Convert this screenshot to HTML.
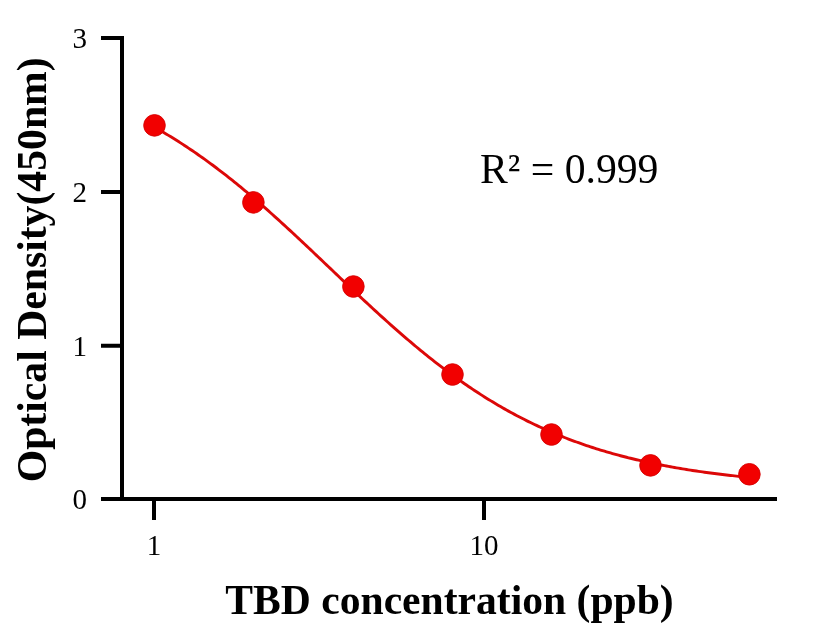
<!DOCTYPE html>
<html><head><meta charset="utf-8"><style>
html,body{margin:0;padding:0;background:#fff;}
svg{display:block;will-change:transform;}
text{font-family:"Liberation Serif",serif;fill:#000;}
</style></head><body>
<svg width="816" height="640" viewBox="0 0 816 640">
<rect width="816" height="640" fill="#fff"/>
<g stroke="#000" stroke-width="4" fill="none" stroke-linecap="butt">
<path d="M122,36 V499"/>
<path d="M101,38 H122 M101,192 H122 M101,345.8 H122"/>
<path d="M101,499 H777"/>
<path d="M154,499 V520 M484,499 V520"/>
</g>
<g font-size="29" text-anchor="end">
<text x="87" y="47.7">3</text>
<text x="87" y="201.7">2</text>
<text x="87" y="355.5">1</text>
<text x="87" y="508.7">0</text>
</g>
<g font-size="29" text-anchor="middle">
<text x="154" y="555.2">1</text>
<text x="484" y="555.2">10</text>
</g>
<text x="449.5" y="614" font-size="41.6" font-weight="bold" text-anchor="middle">TBD concentration (ppb)</text>
<text transform="translate(46,269.8) rotate(-90)" x="0" y="0" font-size="41.7" font-weight="bold" text-anchor="middle">Optical Density(450nm)</text>
<text x="480" y="182.7" font-size="41.7" >R² = 0.999</text>
<path d="M154.5,127.21 L156.5,128.34 L158.5,129.48 L160.5,130.64 L162.5,131.80 L164.5,132.98 L166.5,134.17 L168.5,135.37 L170.5,136.59 L172.5,137.82 L174.5,139.06 L176.5,140.31 L178.5,141.58 L180.5,142.86 L182.5,144.15 L184.5,145.46 L186.5,146.77 L188.5,148.10 L190.5,149.45 L192.5,150.80 L194.5,152.17 L196.5,153.55 L198.5,154.94 L200.5,156.35 L202.5,157.76 L204.5,159.19 L206.5,160.64 L208.5,162.09 L210.5,163.56 L212.5,165.04 L214.5,166.53 L216.5,168.03 L218.5,169.55 L220.5,171.07 L222.5,172.61 L224.5,174.16 L226.5,175.73 L228.5,177.30 L230.5,178.88 L232.5,180.48 L234.5,182.09 L236.5,183.70 L238.5,185.33 L240.5,186.97 L242.5,188.62 L244.5,190.28 L246.5,191.95 L248.5,193.63 L250.5,195.32 L252.5,197.02 L254.5,198.73 L256.5,200.45 L258.5,202.18 L260.5,203.92 L262.5,205.66 L264.5,207.42 L266.5,209.18 L268.5,210.95 L270.5,212.73 L272.5,214.52 L274.5,216.31 L276.5,218.11 L278.5,219.92 L280.5,221.74 L282.5,223.56 L284.5,225.39 L286.5,227.23 L288.5,229.07 L290.5,230.92 L292.5,232.77 L294.5,234.63 L296.5,236.49 L298.5,238.36 L300.5,240.23 L302.5,242.11 L304.5,243.99 L306.5,245.87 L308.5,247.76 L310.5,249.65 L312.5,251.54 L314.5,253.43 L316.5,255.33 L318.5,257.23 L320.5,259.13 L322.5,261.04 L324.5,262.94 L326.5,264.84 L328.5,266.75 L330.5,268.66 L332.5,270.56 L334.5,272.47 L336.5,274.37 L338.5,276.27 L340.5,278.18 L342.5,280.08 L344.5,281.98 L346.5,283.87 L348.5,285.77 L350.5,287.66 L352.5,289.55 L354.5,291.44 L356.5,293.32 L358.5,295.20 L360.5,297.08 L362.5,298.95 L364.5,300.82 L366.5,302.68 L368.5,304.53 L370.5,306.39 L372.5,308.23 L374.5,310.07 L376.5,311.91 L378.5,313.74 L380.5,315.56 L382.5,317.38 L384.5,319.18 L386.5,320.98 L388.5,322.78 L390.5,324.56 L392.5,326.34 L394.5,328.11 L396.5,329.88 L398.5,331.63 L400.5,333.37 L402.5,335.11 L404.5,336.84 L406.5,338.55 L408.5,340.26 L410.5,341.96 L412.5,343.65 L414.5,345.33 L416.5,347.00 L418.5,348.66 L420.5,350.31 L422.5,351.94 L424.5,353.57 L426.5,355.19 L428.5,356.79 L430.5,358.39 L432.5,359.97 L434.5,361.54 L436.5,363.10 L438.5,364.65 L440.5,366.19 L442.5,367.71 L444.5,369.23 L446.5,370.73 L448.5,372.22 L450.5,373.70 L452.5,375.16 L454.5,376.61 L456.5,378.06 L458.5,379.48 L460.5,380.90 L462.5,382.30 L464.5,383.70 L466.5,385.07 L468.5,386.44 L470.5,387.79 L472.5,389.14 L474.5,390.46 L476.5,391.78 L478.5,393.08 L480.5,394.37 L482.5,395.65 L484.5,396.92 L486.5,398.17 L488.5,399.41 L490.5,400.63 L492.5,401.85 L494.5,403.05 L496.5,404.24 L498.5,405.42 L500.5,406.58 L502.5,407.73 L504.5,408.87 L506.5,410.00 L508.5,411.11 L510.5,412.21 L512.5,413.30 L514.5,414.38 L516.5,415.44 L518.5,416.49 L520.5,417.54 L522.5,418.56 L524.5,419.58 L526.5,420.58 L528.5,421.58 L530.5,422.56 L532.5,423.52 L534.5,424.48 L536.5,425.43 L538.5,426.36 L540.5,427.28 L542.5,428.19 L544.5,429.09 L546.5,429.98 L548.5,430.86 L550.5,431.72 L552.5,432.58 L554.5,433.42 L556.5,434.26 L558.5,435.08 L560.5,435.89 L562.5,436.69 L564.5,437.48 L566.5,438.26 L568.5,439.03 L570.5,439.79 L572.5,440.54 L574.5,441.28 L576.5,442.01 L578.5,442.73 L580.5,443.44 L582.5,444.14 L584.5,444.83 L586.5,445.51 L588.5,446.18 L590.5,446.84 L592.5,447.50 L594.5,448.14 L596.5,448.78 L598.5,449.40 L600.5,450.02 L602.5,450.63 L604.5,451.23 L606.5,451.82 L608.5,452.40 L610.5,452.98 L612.5,453.54 L614.5,454.10 L616.5,454.65 L618.5,455.19 L620.5,455.73 L622.5,456.25 L624.5,456.77 L626.5,457.28 L628.5,457.79 L630.5,458.28 L632.5,458.77 L634.5,459.25 L636.5,459.73 L638.5,460.19 L640.5,460.65 L642.5,461.11 L644.5,461.56 L646.5,462.00 L648.5,462.43 L650.5,462.86 L652.5,463.28 L654.5,463.69 L656.5,464.10 L658.5,464.50 L660.5,464.89 L662.5,465.28 L664.5,465.67 L666.5,466.04 L668.5,466.42 L670.5,466.78 L672.5,467.14 L674.5,467.50 L676.5,467.85 L678.5,468.19 L680.5,468.53 L682.5,468.86 L684.5,469.19 L686.5,469.51 L688.5,469.83 L690.5,470.14 L692.5,470.45 L694.5,470.75 L696.5,471.05 L698.5,471.34 L700.5,471.63 L702.5,471.92 L704.5,472.20 L706.5,472.47 L708.5,472.74 L710.5,473.01 L712.5,473.27 L714.5,473.53 L716.5,473.79 L718.5,474.04 L720.5,474.28 L722.5,474.52 L724.5,474.76 L726.5,475.00 L728.5,475.23 L730.5,475.45 L732.5,475.68 L734.5,475.90 L736.5,476.11 L738.5,476.33 L740.5,476.54 L742.5,476.74 L744.5,476.94 L746.5,477.14 L748.5,477.34" fill="none" stroke="#DC0808" stroke-width="2.9"/>
<g fill="#F20000" stroke="#D60202" stroke-width="0.9">
<circle cx="154.5" cy="125.4" r="10.8"/>
<circle cx="253.4" cy="202.4" r="10.8"/>
<circle cx="353.4" cy="286.5" r="10.8"/>
<circle cx="452.5" cy="374.5" r="10.8"/>
<circle cx="551.5" cy="434.5" r="10.8"/>
<circle cx="650.5" cy="465.4" r="10.8"/>
<circle cx="749.4" cy="474.3" r="10.8"/>
</g>
</svg>
</body></html>
